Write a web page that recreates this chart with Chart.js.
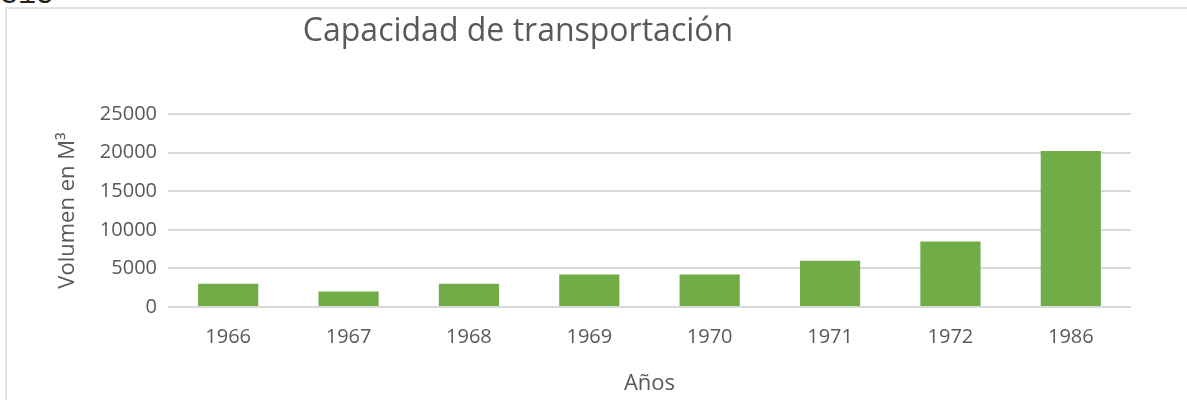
<!DOCTYPE html>
<html>
<head>
<meta charset="utf-8">
<script src="https://cdn.jsdelivr.net/npm/chart.js@4.4.0/dist/chart.umd.min.js"></script>
<style>
  html, body { margin: 0; padding: 0; background: #fff; overflow: hidden; }
  #wrap { position: relative; width: 1187px; height: 400px; }
  #frame { position: absolute; left: 5px; top: 7px; width: 1300px; height: 500px;
           border: 2px solid #e3e3e3; box-sizing: border-box; }
  #note { position: absolute; left: 0; top: -22px; font-family: "Liberation Mono", monospace;
          font-size: 30px; color: #222; }
  canvas { position: absolute; left: 0; top: 0; }
</style>
</head>
<body>
<div id="wrap">
  <div id="note">315</div>
  <div id="frame"></div>
  <canvas id="chart" width="1187" height="400"></canvas>
</div>
<script>
var chartTitle = "Capacidad de transportación";
var years = ["1966", "1967", "1968", "1969", "1970", "1971", "1972", "1986"];
var volumes = [3000, 2000, 3000, 4200, 4200, 6000, 8500, 20200];
var yTicks = [0, 5000, 10000, 15000, 20000, 25000];

var textColor = "#595959";
var fontFamily = "'Open Sans', sans-serif";

//Title drawn off-centre like the original chart frame
var titlePlugin = {
    id: "offTitle",
    afterDraw: function(chart) {
        var ctx = chart.ctx;
        ctx.save();
        ctx.font = "32px " + fontFamily;
        ctx.fillStyle = textColor;
        ctx.textAlign = "center";
        ctx.textBaseline = "middle";
        ctx.fillText(chartTitle, 518, 32);
        ctx.restore();
    }
};

new Chart(document.getElementById("chart"), {
    type: "bar",
    data: {
        labels: years,
        datasets: [{
            label: "Volumen",
            data: volumes,
            backgroundColor: "#70AD47",
            categoryPercentage: 1,
            barPercentage: 0.5
        }]
    },
    plugins: [titlePlugin],
    options: {
        responsive: false,
        animation: false,
        layout: { padding: { left: 55, right: 56, top: 114, bottom: 0 } },
        plugins: {
            legend: { display: false },
            tooltip: { enabled: false }
        },
        scales: {
            x: {
                grid: { display: false, drawTicks: false },
                border: { display: false },
                ticks: { color: textColor, font: { family: fontFamily, size: 20 }, padding: 18 },
                title: {
                    display: true, text: "Años", color: textColor,
                    font: { family: fontFamily, size: 22 },
                    padding: { top: 0, bottom: 3 }
                },
                afterFit: function(scale) { scale.height = 93; }
            },
            y: {
                min: 0,
                max: 25000,
                afterBuildTicks: function(scale) {
                    scale.ticks = yTicks.map(function(v) { return { value: v }; });
                },
                grid: { color: "#d9d9d9", lineWidth: 2, drawTicks: false },
                border: { display: false },
                ticks: {
                    color: textColor, font: { family: fontFamily, size: 20 }, padding: 11,
                    callback: function(value) { return String(value); }
                },
                title: {
                    display: true, text: "Volumen en M³", color: textColor,
                    font: { family: fontFamily, size: 22 },
                    padding: { top: 0, bottom: 4 }
                },
                afterFit: function(scale) { scale.width = 113; }
            }
        }
    }
});
</script>
</body>
</html>
